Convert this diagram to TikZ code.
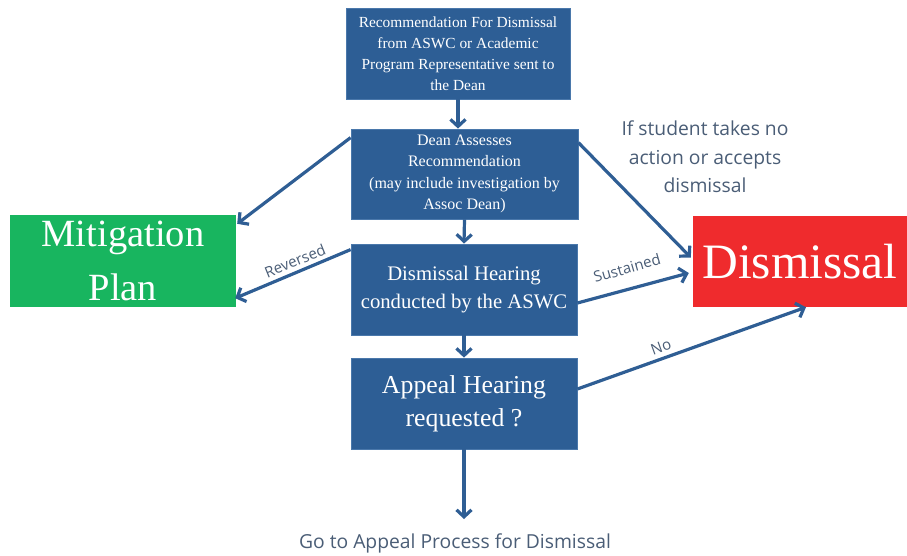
\documentclass[tikz,border=0pt]{standalone}
\usepackage{fontspec}
\setmainfont{Liberation Serif}
\newfontfamily\labelfont{Open Sans}
\usetikzlibrary{arrows.meta,calc}
\definecolor{boxblue}{HTML}{2D5E95}
\definecolor{boxedge}{HTML}{4A78AB}
\definecolor{arrowblue}{HTML}{2F5E94}
\definecolor{mitgreen}{HTML}{18B55F}
\definecolor{disred}{HTML}{EF2B2D}
\definecolor{labelgray}{HTML}{4A5D76}
\begin{document}
\begin{tikzpicture}[x=1pt,y=1pt,
  bluebox/.style={draw=boxedge, line width=0.8pt, fill=boxblue, text=white, align=center, inner sep=0pt, minimum width=226pt, minimum height=91pt},
  bigbox/.style={inner sep=0pt, text=white, align=center, minimum height=92pt},
  conn/.style={draw=arrowblue, line width=3.2pt, -{Straight Barb[length=7pt,width=15pt,line width=3.2pt]}},
  lbl/.style={text=labelgray, font=\labelfont\fontsize{15}{18}\selectfont, inner sep=0pt},
  biglbl/.style={text=labelgray, font=\labelfont\fontsize{19.3}{28.5}\selectfont, align=center, inner sep=0pt}]
\useasboundingbox (0,0) rectangle (907,-555);

\node[bluebox, minimum width=224pt, font=\fontsize{15.4}{21}\selectfont] (rec) at (458,-53.5)
  {Recommendation For Dismissal\\from ASWC or Academic\\Program Representative sent to\\the Dean};
\node[bluebox, minimum width=227pt, minimum height=90pt, font=\fontsize{16}{21.5}\selectfont] (dean) at (464.5,-174)
  {Dean Assesses\\Recommendation\\(may include investigation by\\Assoc Dean)};
\node[bluebox, font=\fontsize{20.7}{28}\selectfont] (hear) at (464,-289.5)
  {Dismissal Hearing\\conducted by the ASWC};
\node[bluebox, font=\fontsize{25.8}{33}\selectfont] (appeal) at (464,-403.5)
  {Appeal Hearing\\requested ?};
\node[bigbox, fill=mitgreen, minimum width=226pt, font=\fontsize{38.5}{54}\selectfont] (mit) at (123,-261)
  {Mitigation\\Plan};
\node[bigbox, fill=disred, minimum width=214pt, minimum height=91pt, font=\fontsize{49.5}{54}\selectfont] (dis) at (800,-261.5)
  {Dismissal};

\node[biglbl] (note) at (705,-157) {If student takes no\\action or accepts\\dismissal};
\node[biglbl] (goto) at (455,-543) {Go to Appeal Process for Dismissal};
\coordinate (gotoend) at (464,-519);

\draw[conn] (rec.south) -- (rec.south |- dean.north);
\draw[conn] (dean.south) -- (hear.north);
\draw[conn] (hear.south) -- (appeal.north);
\draw[conn] (appeal.south) -- (gotoend);

\draw[conn] ($(dean.north west)+(0,-9)$) -- ($(mit.north east)+(1,-9)$);
\draw[conn] ($(hear.north west)+(0,-6)$) -- ($(mit.south east)+(-1,9)$);
\draw[conn] ($(dean.north east)+(0,-14)$) -- ($(dis.west)+(-2,4)$);
\draw[conn] ($(hear.east)+(0,-13.5)$) -- ($(dis.west)+(-4,-11.5)$);
\draw[conn] ($(appeal.east)+(0,14.5)$) -- ($(dis.south)+(6,0)$);

\node[lbl, rotate=22] (lrev) at (295,-261) {Reversed};
\node[lbl, rotate=16] (lsus) at (627,-268) {Sustained};
\node[lbl, rotate=20] (lno) at (661,-347) {No};
\end{tikzpicture}
\end{document}
